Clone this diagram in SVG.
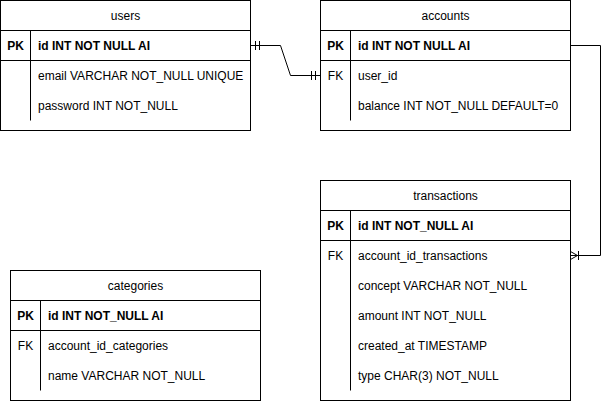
<svg xmlns="http://www.w3.org/2000/svg" width="609" height="401" viewBox="0 0 609 401">
<style>
.box{fill:#fff;stroke:#000;stroke-width:1}
.ln{stroke:#000;stroke-width:1;fill:none}
text{font-family:"Liberation Sans",Arial,Helvetica,sans-serif;font-size:12px;fill:#000}
.t{text-anchor:middle}
.b{font-weight:bold}
.k{text-anchor:middle}
</style>
<rect width="609" height="401" fill="#fff"/>
<g id="users">
<rect class="box" x="0.5" y="0.5" width="250" height="130"/>
<path class="ln" d="M0.5 30.5H250.5M0.5 60.5H250.5M30.5 30.5V120.5"/>
<text class="t" x="125.5" y="19.5">users</text>
<text class="k b" x="15.5" y="49.5">PK</text>
<text class="b" x="38" y="49.5">id INT NOT NULL AI</text>
<text x="38" y="79.5">email VARCHAR NOT_NULL UNIQUE</text>
<text x="38" y="109.5">password INT NOT_NULL</text>
</g>
<g id="accounts">
<rect class="box" x="320.5" y="0.5" width="250" height="130"/>
<path class="ln" d="M320.5 30.5H570.5M320.5 60.5H570.5M350.5 30.5V120.5"/>
<text class="t" x="445.5" y="19.5">accounts</text>
<text class="k b" x="335.5" y="49.5">PK</text>
<text class="b" x="358" y="49.5">id INT NOT NULL AI</text>
<text class="k" x="335.5" y="79.5">FK</text>
<text x="358" y="79.5">user_id</text>
<text x="358" y="109.5">balance INT NOT_NULL DEFAULT=0</text>
</g>
<g id="transactions">
<rect class="box" x="320.5" y="180.5" width="250" height="220"/>
<path class="ln" d="M320.5 210.5H570.5M320.5 240.5H570.5M350.5 210.5V390.5"/>
<text class="t" x="445.5" y="199.5">transactions</text>
<text class="k b" x="335.5" y="229.5">PK</text>
<text class="b" x="358" y="229.5">id INT NOT_NULL AI</text>
<text class="k" x="335.5" y="259.5">FK</text>
<text x="358" y="259.5">account_id_transactions</text>
<text x="358" y="289.5">concept VARCHAR NOT_NULL</text>
<text x="358" y="319.5">amount INT NOT_NULL</text>
<text x="358" y="349.5">created_at TIMESTAMP</text>
<text x="358" y="379.5">type CHAR(3) NOT_NULL</text>
</g>
<g id="categories">
<rect class="box" x="10.5" y="270.5" width="250" height="130"/>
<path class="ln" d="M10.5 300.5H260.5M10.5 330.5H260.5M40.5 300.5V390.5"/>
<text class="t" x="135.5" y="289.5">categories</text>
<text class="k b" x="25.5" y="319.5">PK</text>
<text class="b" x="48" y="319.5">id INT NOT_NULL AI</text>
<text class="k" x="25.5" y="349.5">FK</text>
<text x="48" y="349.5">account_id_categories</text>
<text x="48" y="379.5">name VARCHAR NOT_NULL</text>
</g>
<g id="connectors">
<path class="ln" d="M250.5 45.5H280.5L290.5 75.5H320.5"/>
<path class="ln" d="M255.5 41V50M259.5 41V50M311.5 71V80M315.5 71V80"/>
<path class="ln" d="M570.5 45.5H600.5V255.5H570.5"/>
<path class="ln" d="M570.5 251.5L577.5 255.5L570.5 259.5M578.5 251V260"/>
</g>
</svg>
